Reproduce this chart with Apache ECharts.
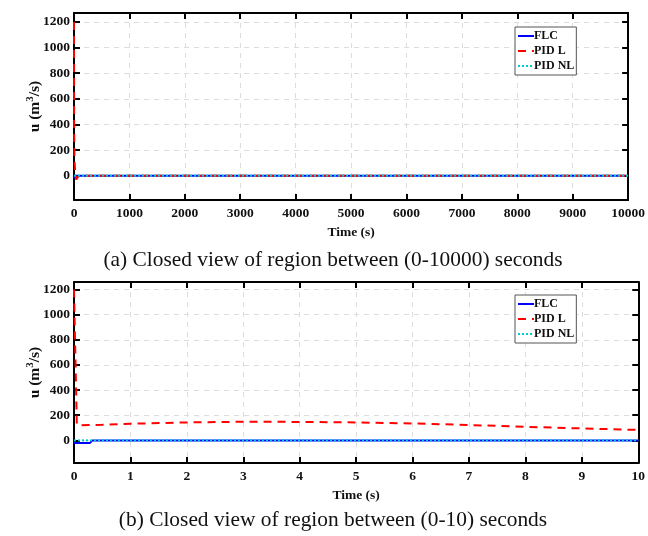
<!DOCTYPE html>
<html>
<head>
<meta charset="utf-8">
<script src="https://cdn.jsdelivr.net/npm/echarts@6/dist/echarts.min.js"></script>
<style>
* { margin: 0; padding: 0; }
body { background: #fff; }
#chart { width: 648px; height: 536px; }
</style>
</head>
<body>
<div id="chart"></div>
<script>
// (a) 0-10000 s
var topFlcTime = [0, 6, 20, 10000];
var topFlc = [-20, -20, 0, 0];
var topPidLTime = [0, 2, 8, 20, 40, 70, 120, 10000];
var topPidL = [1200, 400, 130, 40, -30, -10, 0, 0];
var topPidNlTime = [0, 10000];
var topPidNl = [0, 0];

// (b) 0-10 s
var botFlcTime = [0, 0.28, 0.33, 1, 2, 4, 6, 8, 10];
var botFlc = [-20, -20, 0, 0, 0, 0, 0, 0, 0];
var botPidLTime = [0, 0.05, 0.1, 0.5, 1, 2, 3, 4, 5, 6, 7, 8, 9, 10];
var botPidL = [1200, 125, 120, 124, 132, 143, 148, 147, 143, 135, 122, 108, 95, 83];
var botPidNlTime = [0, 10];
var botPidNl = [0, 0];

var yTicks = [0, 200, 400, 600, 800, 1000, 1200];

function pairs(t, v) {
  return t.map(function (x, i) { return [x, v[i]]; });
}

var font = "'Liberation Serif', 'Times New Roman', serif";
var labelStyle = { fontFamily: font, fontWeight: "bold", fontSize: 13.5, color: "#111" };
var edge = { onZero: false, lineStyle: { color: "#000", width: 2 } };
var tick = { inside: true, length: 6, lineStyle: { color: "#000", width: 2 } };

function xAx(grid, max, interval, nameGap) {
  return [{
    type: "value", gridIndex: grid, min: 0, max: max, interval: interval,
    name: "Time (s)", nameLocation: "middle", nameGap: nameGap, nameMoveOverlap: false,
    nameTextStyle: { fontFamily: font, fontWeight: "bold", fontSize: 13.5, color: "#111" },
    axisLine: edge, axisTick: tick,
    axisLabel: Object.assign({ margin: 7, formatter: function (v) { return String(v); } }, labelStyle),
    splitLine: { show: true, lineStyle: { color: "#ddd", type: [5, 5] } }
  }, {
    type: "value", gridIndex: grid, position: "top", min: 0, max: max, interval: interval,
    axisLine: edge, axisTick: tick,
    axisLabel: { show: false }, splitLine: { show: false }
  }];
}

function yAx(grid, min, max) {
  var fmt = function (v) { return yTicks.indexOf(v) >= 0 ? String(v) : ""; };
  return [{
    type: "value", gridIndex: grid, min: min, max: max, minInterval: 200, maxInterval: 200,
    name: "{b|u (m}{s|3}{b|/s)}", nameLocation: "middle", nameGap: 30, nameRotate: 90, nameMoveOverlap: false,
    nameTextStyle: {
      rich: {
        b: { fontFamily: font, fontWeight: "bold", fontSize: 15.5, color: "#111" },
        s: { fontFamily: font, fontWeight: "bold", fontSize: 11, color: "#111", verticalAlign: "top", padding: [0, 0, 8, 0] }
      }
    },
    axisLine: edge, axisTick: tick,
    axisLabel: Object.assign({ margin: 4, formatter: fmt, showMinLabel: false, showMaxLabel: false }, labelStyle),
    splitLine: { show: true, lineStyle: { color: "#ddd", type: [5, 5] } }
  }, {
    type: "value", gridIndex: grid, position: "right", min: min, max: max, minInterval: 200, maxInterval: 200,
    axisLine: edge, axisTick: tick,
    axisLabel: { show: false }, splitLine: { show: false }
  }];
}

function series(grid, flc, pidl, pidnl) {
  var xi = grid * 2, yi = grid * 2;
  return [
    { name: "FLC", type: "line", xAxisIndex: xi, yAxisIndex: yi, data: flc, showSymbol: false, symbol: "none",
      lineStyle: { color: "#0000ff", width: 2 }, itemStyle: { color: "#0000ff" } },
    { name: "PID L", type: "line", xAxisIndex: xi, yAxisIndex: yi, data: pidl, showSymbol: false, symbol: "none",
      lineStyle: { color: "#ff0000", width: 2, type: [8, 6] }, itemStyle: { color: "#ff0000" } },
    { name: "PID NL", type: "line", xAxisIndex: xi, yAxisIndex: yi, data: pidnl, showSymbol: false, symbol: "none",
      lineStyle: { color: "#00cccc", width: 2, type: [2, 2] }, itemStyle: { color: "#00cccc" } }
  ];
}

function legend(top) {
  return {
    orient: "vertical", left: 515, top: top, itemWidth: 16, itemHeight: 10, itemGap: 3,
    padding: [3, 2, 3, 2], borderColor: "#555", borderWidth: 1, backgroundColor: "#fff",
    itemStyle: { opacity: 0 },
    textStyle: { fontFamily: font, fontWeight: "bold", fontSize: 12, color: "#111", padding: [0, 0, 0, -5] },
    data: ["FLC", "PID L", "PID NL"]
  };
}

var chart = echarts.init(document.getElementById("chart"));
chart.setOption({
  animation: false,
  grid: [
    { left: 74, top: 13, width: 558, height: 187 },
    { left: 74, top: 282, width: 568, height: 181 }
  ],
  xAxis: xAx(0, 10000, 1000, 26).concat(xAx(1, 10, 1, 26)),
  yAxis: yAx(0, -190, 1270).concat(yAx(1, -180, 1260)),
  legend: [legend(27), legend(295)],
  series: series(0, pairs(topFlcTime, topFlc), pairs(topPidLTime, topPidL), pairs(topPidNlTime, topPidNl))
    .concat(series(1, pairs(botFlcTime, botFlc), pairs(botPidLTime, botPidL), pairs(botPidNlTime, botPidNl))),
  graphic: [
    { type: "text", x: 333, y: 260, style: { text: "(a) Closed view of region between (0-10000) seconds",
      font: "21.4px " + font, fill: "#111", textAlign: "center", textVerticalAlign: "middle" } },
    { type: "text", x: 333, y: 520, style: { text: "(b) Closed view of region between (0-10) seconds",
      font: "21.4px " + font, fill: "#111", textAlign: "center", textVerticalAlign: "middle" } }
  ]
});
</script>
</body>
</html>
